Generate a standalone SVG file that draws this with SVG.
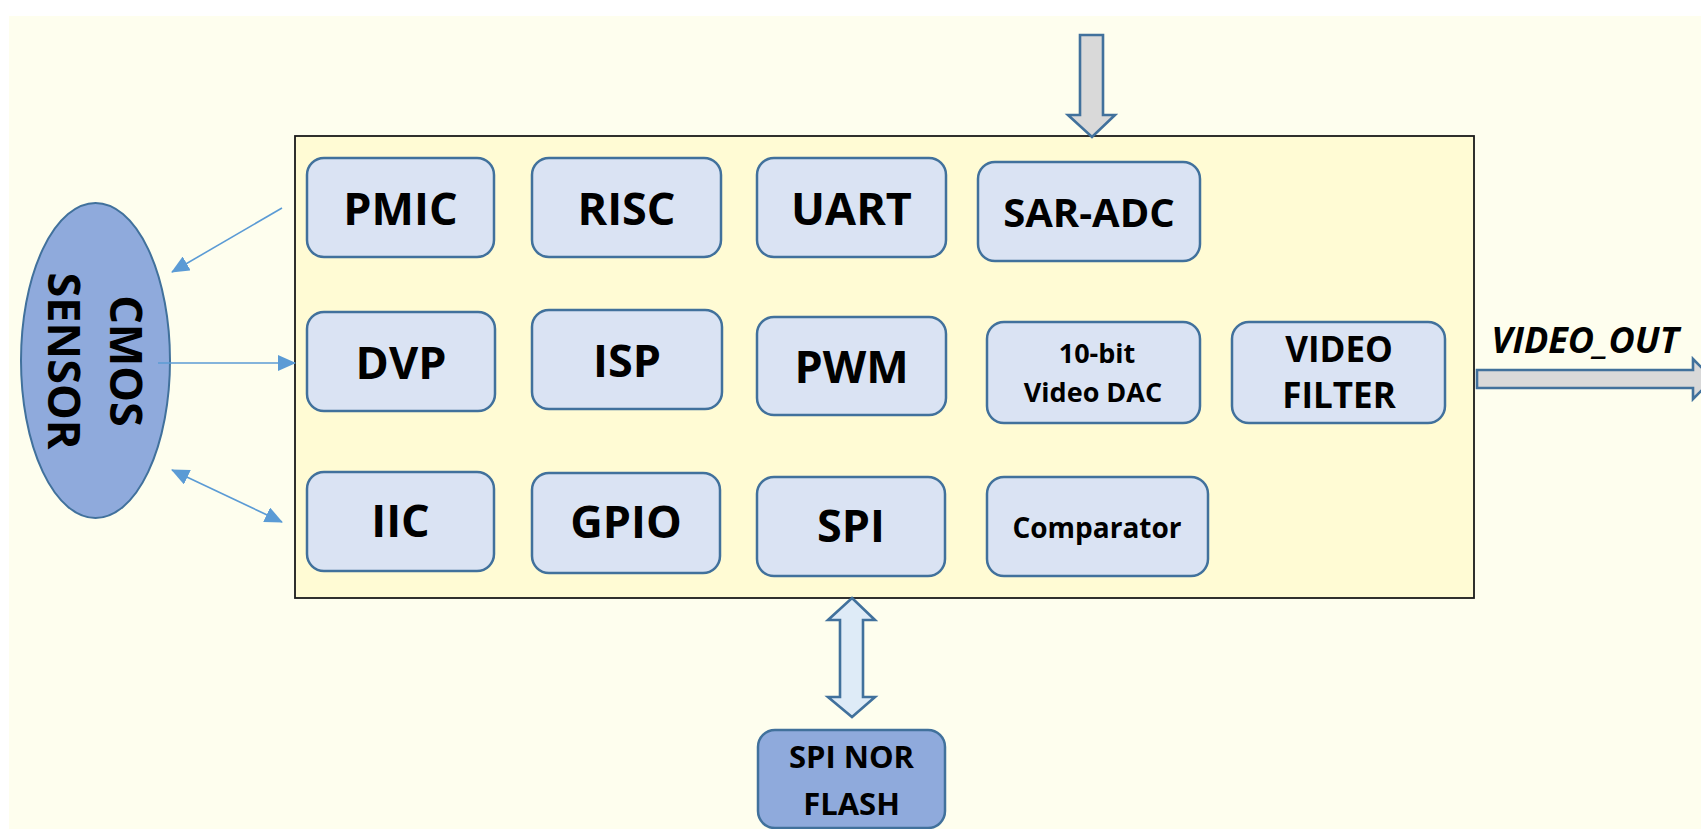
<svg xmlns="http://www.w3.org/2000/svg" width="1701" height="829" viewBox="0 0 1701 829">
<style>
.blk{fill:#dae3f3;stroke:#41719c;stroke-width:2.5}
.t{font-family:"Open Sans","Liberation Sans",sans-serif;font-weight:bold;fill:#000;text-anchor:middle}
.big{font-size:45px}
.thin{stroke:#5b9bd5;stroke-width:1.6;fill:none}
.barrow{stroke:#41719c;stroke-width:2.6;stroke-linejoin:miter}
</style>
<defs>
<marker id="ah" viewBox="0 0 18 16" refX="17" refY="8" markerWidth="18" markerHeight="16" markerUnits="userSpaceOnUse" orient="auto-start-reverse">
<path d="M0,0 L18,8 L0,16 Z" fill="#5b9bd5"/>
</marker>
</defs>
<rect x="0" y="0" width="1701" height="829" fill="#ffffff"/>
<rect x="9" y="16" width="1692" height="813" fill="#fefeee"/>
<g id="chip">
<rect x="295" y="136" width="1179" height="462" fill="#fffbd4" stroke="#1a1a1a" stroke-width="1.8"/>
</g>
<g id="cmos">
<ellipse cx="95.5" cy="360.5" rx="74.5" ry="157.5" fill="#8faadc" stroke="#41719c" stroke-width="2"/>
<g transform="translate(95,361) rotate(90)">
<text class="t big" x="0" y="-15">CMOS</text>
<text class="t big" x="0" y="47">SENSOR</text>
</g>
</g>
<g id="pmic"><rect class="blk" x="307" y="158" width="187" height="99" rx="17"/><text class="t big" x="400.5" y="225">PMIC</text></g>
<g id="risc"><rect class="blk" x="532" y="158" width="189" height="99" rx="17"/><text class="t big" x="626.5" y="225">RISC</text></g>
<g id="uart"><rect class="blk" x="757" y="158" width="189" height="99" rx="17"/><text class="t big" x="851.5" y="225">UART</text></g>
<g id="saradc"><rect class="blk" x="978" y="162" width="222" height="99" rx="17"/><text class="t" font-size="40" x="1089" y="227">SAR-ADC</text></g>
<g id="dvp"><rect class="blk" x="307" y="312" width="188" height="99" rx="17"/><text class="t big" x="401" y="379">DVP</text></g>
<g id="isp"><rect class="blk" x="532" y="310" width="190" height="99" rx="17"/><text class="t big" x="627" y="377">ISP</text></g>
<g id="pwm"><rect class="blk" x="757" y="317" width="189" height="98" rx="17"/><text class="t big" x="851.5" y="383">PWM</text></g>
<g id="vdac"><rect class="blk" x="987" y="322" width="213" height="101" rx="17"/><text class="t" font-size="27" x="1097" y="363">10-bit</text><text class="t" font-size="27" x="1093" y="402">Video DAC</text></g>
<g id="vfilter"><rect class="blk" x="1232" y="322" width="213" height="101" rx="17"/><text class="t" font-size="35" x="1339" y="362">VIDEO</text><text class="t" font-size="35" x="1339" y="408">FILTER</text></g>
<g id="iic"><rect class="blk" x="307" y="472" width="187" height="99" rx="17"/><text class="t big" x="400.5" y="537">IIC</text></g>
<g id="gpio"><rect class="blk" x="532" y="473" width="188" height="100" rx="17"/><text class="t big" x="626" y="538">GPIO</text></g>
<g id="spi"><rect class="blk" x="757" y="477" width="188" height="99" rx="17"/><text class="t big" x="851" y="542">SPI</text></g>
<g id="comparator"><rect class="blk" x="987" y="477" width="221" height="99" rx="17"/><text class="t" font-size="28" x="1097" y="538">Comparator</text></g>
<g id="spinor"><rect x="758" y="730" width="187" height="98" rx="17" fill="#8faadc" stroke="#41719c" stroke-width="2.5"/><text class="t" font-size="31" x="851.5" y="768">SPI NOR</text><text class="t" font-size="31" x="851.5" y="815">FLASH</text></g>
<g id="video_out_label"><text class="t" font-size="36" font-style="italic" x="1585" y="353">VIDEO_OUT</text></g>
<g id="connectors">
<line class="thin" x1="282" y1="208" x2="172" y2="272" marker-end="url(#ah)"/>
<line class="thin" x1="158" y1="363" x2="295" y2="363" marker-end="url(#ah)"/>
<line class="thin" x1="172" y1="470" x2="282" y2="522" marker-start="url(#ah)" marker-end="url(#ah)"/>
<path class="barrow" d="M1080,35 H1103 V115 H1115 L1092,137 L1068,115 H1080 Z" fill="#d9d9d9"/>
<path class="barrow" d="M1477,370 H1693 V359 L1713,379 L1693,399 V388 H1477 Z" fill="#d9d9d9"/>
<path class="barrow" d="M852,598 L875,620 H863 V697 H875 L852,717 L828,697 H840 V620 H828 Z" fill="#deebf7"/>
</g>
</svg>
